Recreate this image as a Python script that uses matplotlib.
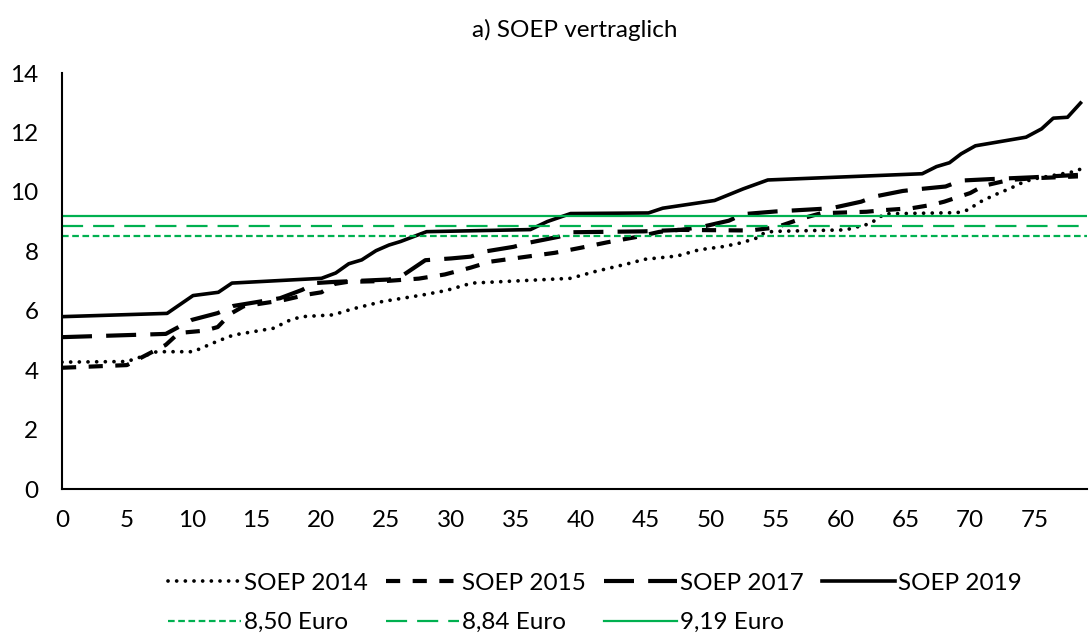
import matplotlib
matplotlib.use("Agg")
import matplotlib.pyplot as plt

plt.rcParams["font.family"] = ["Lato", "DejaVu Sans"]

# SOEP vertraglich: Stundenlohn-Verläufe (Knickpunkte)
x_2014 = [0, 5, 7.3, 10.1, 11.9, 13.2, 16.3, 17.6, 18.5, 20.9, 22.3, 24.7, 27.8, 29.6,
          31.6, 39.2, 41.1, 43.6, 44.9, 47.4, 49.1, 51, 52.4, 53.5, 54.1, 54.8, 60.4,
          61.2, 62.2, 62.7, 63.4, 69, 69.8, 70.8, 71.9, 73.1, 74.2, 75.2, 78, 79]
y_2014 = [4.27, 4.29, 4.62, 4.62, 4.96, 5.18, 5.41, 5.69, 5.80, 5.86, 6.05, 6.31, 6.53, 6.68,
          6.93, 7.09, 7.32, 7.58, 7.73, 7.84, 8.05, 8.16, 8.29, 8.44, 8.61, 8.67, 8.72,
          8.81, 8.92, 9.05, 9.26, 9.30, 9.39, 9.67, 9.90, 10.12, 10.35, 10.46, 10.68, 10.85]

x_2015 = [0, 5, 8, 9, 11, 12, 13, 14, 15.5, 17, 19, 20, 21, 22, 25, 27.5, 29.5, 31.5,
          33, 35, 38, 40, 42, 44.5, 46, 47.5, 53, 55, 57, 58.5, 62, 63.5, 65.5, 67, 68,
          70, 71, 72, 73, 75, 78.3]
y_2015 = [4.08, 4.17, 4.85, 5.25, 5.33, 5.45, 5.90, 6.15, 6.25, 6.35, 6.55, 6.62, 6.90,
          6.97, 7.00, 7.08, 7.22, 7.45, 7.65, 7.77, 7.95, 8.12, 8.30, 8.50, 8.65, 8.72,
          8.70, 8.80, 9.10, 9.28, 9.33, 9.39, 9.45, 9.56, 9.67, 9.96, 10.20, 10.30,
          10.40, 10.46, 10.52]

x_2017 = [0, 8, 10, 12, 13.2, 16.8, 18.5, 19.5, 21, 25.2, 26.2, 28, 30, 31.5, 32.7,
          34.8, 36, 38.3, 39.2, 44.8, 47.7, 49.4, 51.4, 52.5, 55, 58.2, 59.3, 61.6,
          62.6, 64.8, 66, 68.1, 69.3, 71.6, 74.8, 78.3]
y_2017 = [5.11, 5.22, 5.69, 5.92, 6.16, 6.42, 6.70, 6.93, 6.97, 7.05, 7.17, 7.70, 7.76,
          7.82, 8.00, 8.15, 8.29, 8.49, 8.64, 8.67, 8.72, 8.83, 9.03, 9.25, 9.34, 9.42,
          9.45, 9.67, 9.84, 10.03, 10.09, 10.18, 10.38, 10.43, 10.49, 10.57]

x_2019 = [0, 8.1, 10.1, 12.05, 13.1, 20, 21.1, 22.1, 23.1, 24.2, 25.2, 26.1, 28.1,
          36.1, 37.4, 39.2, 45.2, 46.3, 50.3, 52.5, 54.4, 66.3, 67.4, 68.4, 69.3, 70.4,
          74.3, 75.5, 76.4, 77.5, 78.5]
y_2019 = [5.80, 5.91, 6.51, 6.62, 6.93, 7.09, 7.27, 7.58, 7.71, 8.02, 8.21, 8.33, 8.66,
          8.73, 9.00, 9.27, 9.29, 9.45, 9.71, 10.10, 10.40, 10.61, 10.85, 10.98, 11.28,
          11.55, 11.84, 12.12, 12.48, 12.51, 12.99]

mindestlohn = [8.50, 8.84, 9.19]
mindestlohn_labels = ["8,50 Euro", "8,84 Euro", "9,19 Euro"]

GREEN = "#00B050"
FS = 17.5

fig = plt.figure(figsize=(10.89, 6.39), dpi=100)
ax = fig.add_axes([62 / 1089, 1 - 489 / 639, (1087 - 62) / 1089, (489 - 73) / 639])

h14, = ax.plot(x_2014, y_2014, color="black", lw=2.7, linestyle=(0, (0.01, 2.3)),
               dash_capstyle="round", label="SOEP 2014")
h15, = ax.plot(x_2015, y_2015, color="black", lw=3.0, linestyle=(0, (3.4, 3.0)),
               label="SOEP 2015")
h17, = ax.plot(x_2017, y_2017, color="black", lw=3.0, linestyle=(0, (7.2, 3.4)),
               label="SOEP 2017")
h19, = ax.plot(x_2019, y_2019, color="black", lw=2.6, label="SOEP 2019")

styles = [(0, (3.0, 1.6)), (0, (9.5, 4.5)), "-"]
hg = []
for val, lab, ls in zip(mindestlohn, mindestlohn_labels, styles):
    h = ax.axhline(val, color=GREEN, lw=1.6, linestyle=ls, label=lab)
    hg.append(h)

ax.set_xlim(0, 79)
ax.set_ylim(0, 14)
ax.set_xticks(range(0, 80, 5))
ax.set_yticks(range(0, 15, 2))
ax.tick_params(length=0, labelsize=FS)
ax.tick_params(axis="y", pad=17)
ax.tick_params(axis="x", pad=15)
for s in ["top", "right"]:
    ax.spines[s].set_visible(False)
for s in ["left", "bottom"]:
    ax.spines[s].set_linewidth(1.5)

fig.text(574.5 / 1089, 1 - 30 / 639, "a) SOEP vertraglich", ha="center", va="center",
         fontsize=FS)

# column-major order so rows read like the original
handles = [h14, hg[0], h15, hg[1], h17, hg[2], h19]
labels = [h.get_label() for h in handles]
fig.legend(handles, labels, ncol=4, loc="center left",
           bbox_to_anchor=(168 / 1089, 1 - 603 / 639), frameon=False, fontsize=FS,
           handlelength=3.0, handletextpad=0.12, columnspacing=0.75, labelspacing=0.75,
           borderpad=0, borderaxespad=0)

fig.savefig("out.png", dpi=100)
